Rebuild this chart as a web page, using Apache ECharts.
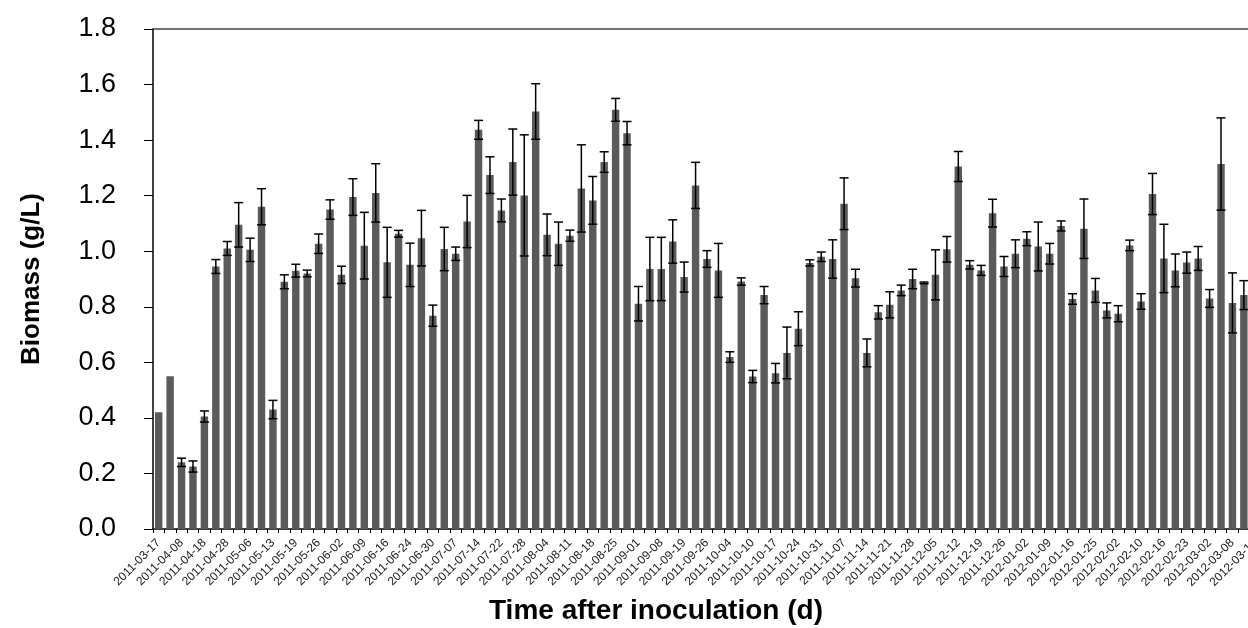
<!DOCTYPE html>
<html>
<head>
<meta charset="utf-8">
<title>Biomass</title>
<script src="https://cdn.jsdelivr.net/npm/echarts@6/dist/echarts.min.js"></script>
<style>
  html, body { margin: 0; padding: 0; background: #fff; }
  #chart { width: 1248px; height: 628px; }
</style>
</head>
<body>
<div id="chart"></div>
<script>
// 标签（每隔一根柱子）
var dateLabels = [
  "2011-03-17", "2011-04-08", "2011-04-18", "2011-04-28", "2011-05-06", "2011-05-13",
  "2011-05-19", "2011-05-26", "2011-06-02", "2011-06-09", "2011-06-16", "2011-06-24",
  "2011-06-30", "2011-07-07", "2011-07-14", "2011-07-22", "2011-07-28", "2011-08-04",
  "2011-08-11", "2011-08-18", "2011-08-25", "2011-09-01", "2011-09-08", "2011-09-19",
  "2011-09-26", "2011-10-04", "2011-10-10", "2011-10-17", "2011-10-24", "2011-10-31",
  "2011-11-07", "2011-11-14", "2011-11-21", "2011-11-28", "2011-12-05", "2011-12-12",
  "2011-12-19", "2011-12-26", "2012-01-02", "2012-01-09", "2012-01-16", "2012-01-25",
  "2012-02-02", "2012-02-10", "2012-02-16", "2012-02-23", "2012-03-02", "2012-03-08",
  "2012-03-15"
];

// 生物量均值
var biomass = [
  0.42, 0.55, 0.24, 0.225, 0.405, 0.945, 1.01, 1.095, 1.005, 1.16,
  0.43, 0.89, 0.93, 0.92, 1.027, 1.15, 0.915, 1.195, 1.02, 1.21,
  0.96, 1.063, 0.951, 1.047, 0.768, 1.008, 0.991, 1.107, 1.437, 1.274,
  1.147, 1.321, 1.201, 1.503, 1.059, 1.027, 1.056, 1.226, 1.183, 1.321,
  1.509, 1.425, 0.811, 0.936, 0.936, 1.035, 0.907, 1.237, 0.972, 0.931,
  0.619, 0.891, 0.549, 0.842, 0.561, 0.634, 0.721, 0.958, 0.98, 0.972,
  1.171, 0.903, 0.634, 0.78, 0.807, 0.859, 0.9, 0.886, 0.915, 1.007,
  1.305, 0.951, 0.931, 1.137, 0.945, 0.991, 1.045, 1.017, 0.991, 1.091,
  0.828, 1.081, 0.859, 0.787, 0.775, 1.021, 0.819, 1.206, 0.974, 0.931,
  0.959, 0.974, 0.83, 1.314, 0.814, 0.842, null
];

// 误差（标准差）
var errors = [
  null, null, 0.015, 0.02, 0.02, 0.025, 0.025, 0.08, 0.042, 0.065,
  0.033, 0.025, 0.023, 0.012, 0.035, 0.035, 0.031, 0.066, 0.12, 0.105,
  0.126, 0.012, 0.078, 0.10, 0.038, 0.078, 0.024, 0.094, 0.034, 0.066,
  0.041, 0.119, 0.218, 0.10, 0.075, 0.078, 0.02, 0.157, 0.086, 0.037,
  0.041, 0.042, 0.062, 0.114, 0.114, 0.078, 0.054, 0.083, 0.03, 0.097,
  0.019, 0.013, 0.022, 0.031, 0.035, 0.093, 0.061, 0.011, 0.017, 0.069,
  0.093, 0.032, 0.05, 0.024, 0.047, 0.019, 0.035, 0.003, 0.09, 0.046,
  0.054, 0.015, 0.018, 0.05, 0.036, 0.05, 0.025, 0.088, 0.037, 0.018,
  0.019, 0.107, 0.043, 0.027, 0.029, 0.019, 0.028, 0.074, 0.123, 0.059,
  0.038, 0.043, 0.032, 0.166, 0.108, 0.052, null
];

var yTicks = ["0.0", "0.2", "0.4", "0.6", "0.8", "1.0", "1.2", "1.4", "1.6", "1.8"];

// 类别：奇数柱有日期标签
var categories = [];
for (var i = 0; i < biomass.length; i++) {
  categories.push(i % 2 === 0 ? dateLabels[i / 2] : "");
}

var errData = [];
for (var j = 0; j < biomass.length; j++) {
  if (biomass[j] != null && errors[j] != null) {
    errData.push([j, biomass[j] - errors[j], biomass[j] + errors[j]]);
  }
}

var chart = echarts.init(document.getElementById("chart"));

var option = {
  animation: false,
  title: {
    text: "Time after inoculation (d)",
    left: 484,
    top: 592,
    textStyle: {
      fontFamily: "Liberation Sans",
      fontSize: 28,
      fontWeight: "bold",
      color: "#000"
    }
  },
  grid: {
    left: 153,
    top: 29,
    bottom: 99,
    right: -13,
    outerBoundsMode: "none"
  },
  xAxis: [
    {
      type: "category",
      data: categories,
      axisLine: { show: true, lineStyle: { color: "#000", width: 1.5 } },
      axisTick: { show: true, interval: 0, length: 4, lineStyle: { color: "#000" } },
      axisLabel: {
        interval: 1,
        rotate: 45,
        margin: 12,
        fontFamily: "Liberation Sans",
        fontSize: 12,
        color: "#222"
      }
    },
    {
      type: "category",
      data: categories,
      position: "top",
      axisLine: { show: true, lineStyle: { color: "#444", width: 1.5 } },
      axisTick: { show: false },
      axisLabel: { show: false }
    }
  ],
  yAxis: {
    type: "value",
    min: 0,
    max: 1.8,
    interval: 0.2,
    name: "Biomass (g/L)",
    nameLocation: "middle",
    nameGap: 108,
    nameTextStyle: {
      fontFamily: "Liberation Sans",
      fontSize: 26,
      fontWeight: "bold",
      color: "#000"
    },
    axisLine: { show: true, lineStyle: { color: "#000", width: 1.5 } },
    axisTick: { show: true, length: 9, lineStyle: { color: "#000" } },
    splitLine: { show: false },
    axisLabel: {
      margin: 37,
      fontFamily: "Liberation Sans",
      fontSize: 27,
      color: "#000",
      formatter: function (v) {
        return yTicks[Math.round(v / 0.2)];
      }
    }
  },
  series: [
    {
      type: "bar",
      data: biomass,
      barCategoryGap: "35%",
      itemStyle: { color: "#5a5a5a" }
    },
    {
      type: "custom",
      data: errData,
      z: 10,
      renderItem: function (params, api) {
        var idx = api.value(0);
        var lo = api.coord([idx, api.value(1)]);
        var hi = api.coord([idx, api.value(2)]);
        var w = 4.5;
        var st = { stroke: "#000", lineWidth: 1.5 };
        return {
          type: "group",
          children: [
            { type: "line", shape: { x1: hi[0], y1: hi[1], x2: lo[0], y2: lo[1] }, style: st },
            { type: "line", shape: { x1: hi[0] - w, y1: hi[1], x2: hi[0] + w, y2: hi[1] }, style: st },
            { type: "line", shape: { x1: lo[0] - w, y1: lo[1], x2: lo[0] + w, y2: lo[1] }, style: st }
          ]
        };
      }
    }
  ]
};

chart.setOption(option);
</script>
</body>
</html>
